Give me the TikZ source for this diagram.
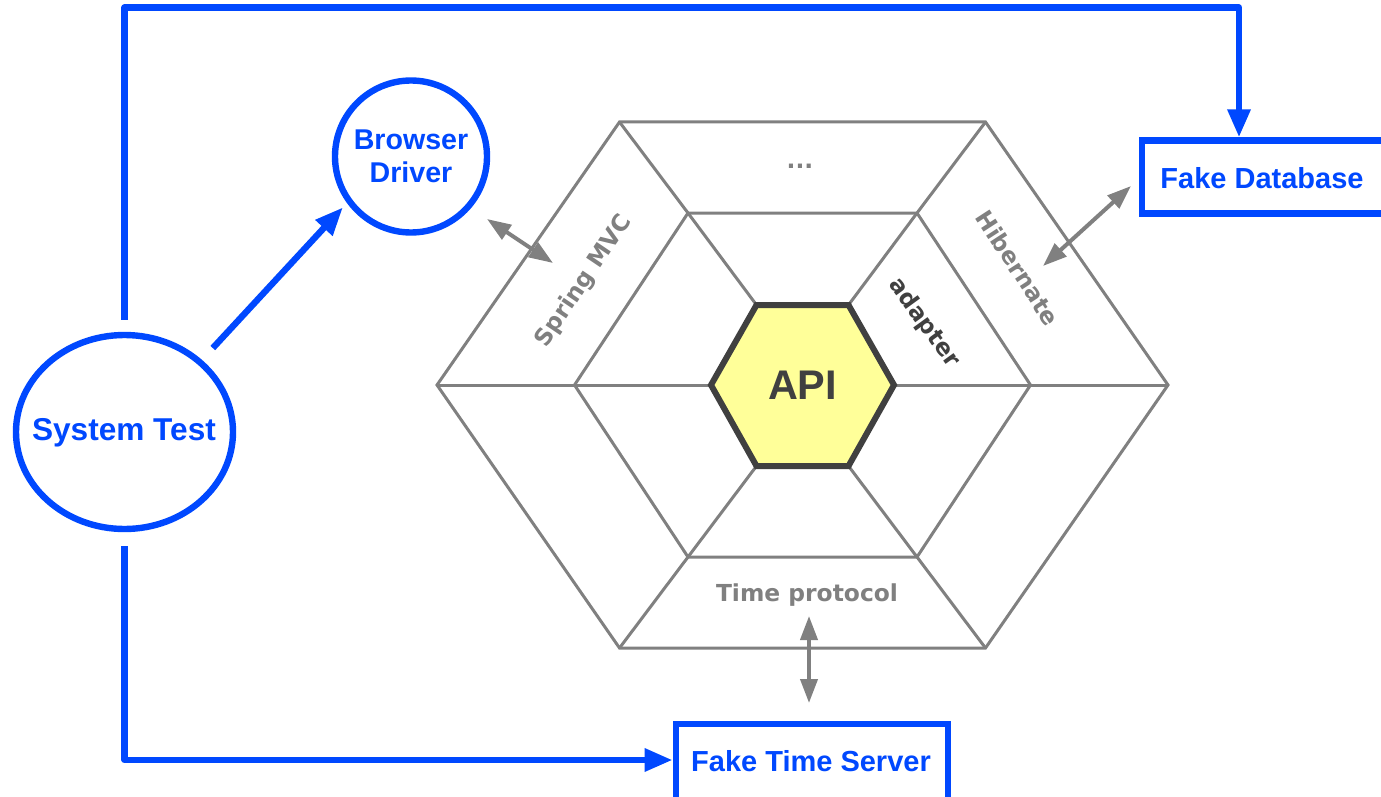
\documentclass[tikz,border=0pt]{standalone}
\usepackage{fontspec}
\setmainfont{Liberation Sans}
\newfontfamily\djb{DejaVu Sans}
\usetikzlibrary{arrows.meta,shapes.geometric}
\definecolor{tblue}{RGB}{0,72,255}
\definecolor{hgray}{RGB}{128,128,128}
\definecolor{adark}{RGB}{64,64,64}
\definecolor{apifill}{RGB}{255,255,153}
\begin{document}
\begin{tikzpicture}[x=0.5pt,y=-0.5pt,
  blueline/.style={draw=tblue,line width=3.2pt,line join=round},
  bluearrow/.style={blueline,-{Triangle[length=14pt,width=11pt]}},
  grayarrow/.style={draw=hgray,line width=2pt,{Triangle[length=12pt,width=8.5pt]}-{Triangle[length=12pt,width=8.5pt]}},
  hexline/.style={draw=hgray,line width=1.5pt,line join=miter},
  bluetext/.style={text=tblue,font=\fontsize{14.5}{16.3}\selectfont\bfseries,align=center},
  graylabel/.style={text=hgray,font=\djb\fontsize{11.7}{14}\selectfont\bfseries,inner sep=0pt},
  bluenode/.style={draw=tblue,line width=3.2pt,inner sep=0pt},
]
\useasboundingbox (0,0) rectangle (1381,797);

% hexagon vertices
\coordinate (O1) at (437,385);   \coordinate (O2) at (619.5,122);
\coordinate (O3) at (985.5,122); \coordinate (O4) at (1168,385);
\coordinate (O5) at (985.5,648); \coordinate (O6) at (619.5,648);
\coordinate (M1) at (574.5,385); \coordinate (M2) at (688,213);
\coordinate (M3) at (917,213);   \coordinate (M4) at (1030.5,385);
\coordinate (M5) at (917,557);   \coordinate (M6) at (688,557);
\coordinate (I1) at (711,385);   \coordinate (I2) at (756.5,305);
\coordinate (I3) at (848.5,305); \coordinate (I4) at (894,385);
\coordinate (I5) at (848.5,466); \coordinate (I6) at (756.5,466);

\draw[hexline] (O1)--(O2)--(O3)--(O4)--(O5)--(O6)--cycle;
\draw[hexline] (M1)--(M2)--(M3)--(M4)--(M5)--(M6)--cycle;
\draw[hexline] (I1)--(M1)--(O1);
\draw[hexline] (I2)--(M2)--(O2);
\draw[hexline] (I3)--(M3)--(O3);
\draw[hexline] (I4)--(M4)--(O4);
\draw[hexline] (I5)--(M5)--(O5);
\draw[hexline] (I6)--(M6)--(O6);
\draw[draw=adark,fill=apifill,line width=3pt,line join=miter]
  (I1)--(I2)--(I3)--(I4)--(I5)--(I6)--cycle;

% labels in the hexagon
\node[text=adark,font=\fontsize{20.7}{24}\selectfont\bfseries] (api) at (802.5,385) {API};
\node[graylabel] (dots) at (800,166) {...};
\node[graylabel,rotate=56] (spring) at (584,281) {Spring MVC};
\node[graylabel,rotate=-57] (hib) at (1018,268) {Hibernate};
\node[graylabel,text=adark,rotate=-54] (adapter) at (924,323) {adapter};
\node[graylabel] (timep) at (807,595) {Time protocol};

% blue nodes
\node[bluenode,ellipse,minimum width=108.5pt,minimum height=97pt] (st) at (124.5,432) {};
\node[bluetext,font=\fontsize{15.8}{18}\selectfont\bfseries] (stt) at (124,433) {System Test};
\node[bluenode,circle,minimum size=76pt,bluetext,font=\fontsize{14.3}{16.3}\selectfont\bfseries] (bd) at (411,156.5) {Browser\\Driver};
\node[bluenode,rectangle,minimum width=122pt,minimum height=36.5pt] (fdb) at (1264,177) {};
\node[bluetext] (fdbt) at (1262,178) {Fake Database};
\node[bluenode,rectangle,minimum width=136.25pt,minimum height=38pt] (fts) at (812,762) {};
\node[bluetext] (ftst) at (811,761) {Fake Time Server};

% blue connectors
\coordinate (tl) at (124.5,7.5);
\coordinate (tr) at (1239,7.5);
\coordinate (bl) at (124.5,760);
\draw[bluearrow,shorten <=6pt] (st.north) -- (tl) -- (tr) -- (tr |- fdb.north);
\draw[bluearrow,shorten <=7pt] (st.south) -- (bl) -- (bl -| fts.west);
\draw[bluearrow,shorten <=8pt,shorten >=3pt] (st.43) -- (bd.216);

% gray double arrows
\coordinate (g1a) at (487,219);  \coordinate (g1b) at (553,263);
\coordinate (g2a) at (1131,186); \coordinate (g2b) at (1043,266);
\coordinate (g3a) at (809,616);  \coordinate (g3b) at (809,703);
\draw[grayarrow] (g1a) -- (g1b);
\draw[grayarrow] (g2a) -- (g2b);
\draw[grayarrow] (g3a) -- (g3b);
\end{tikzpicture}
\end{document}
